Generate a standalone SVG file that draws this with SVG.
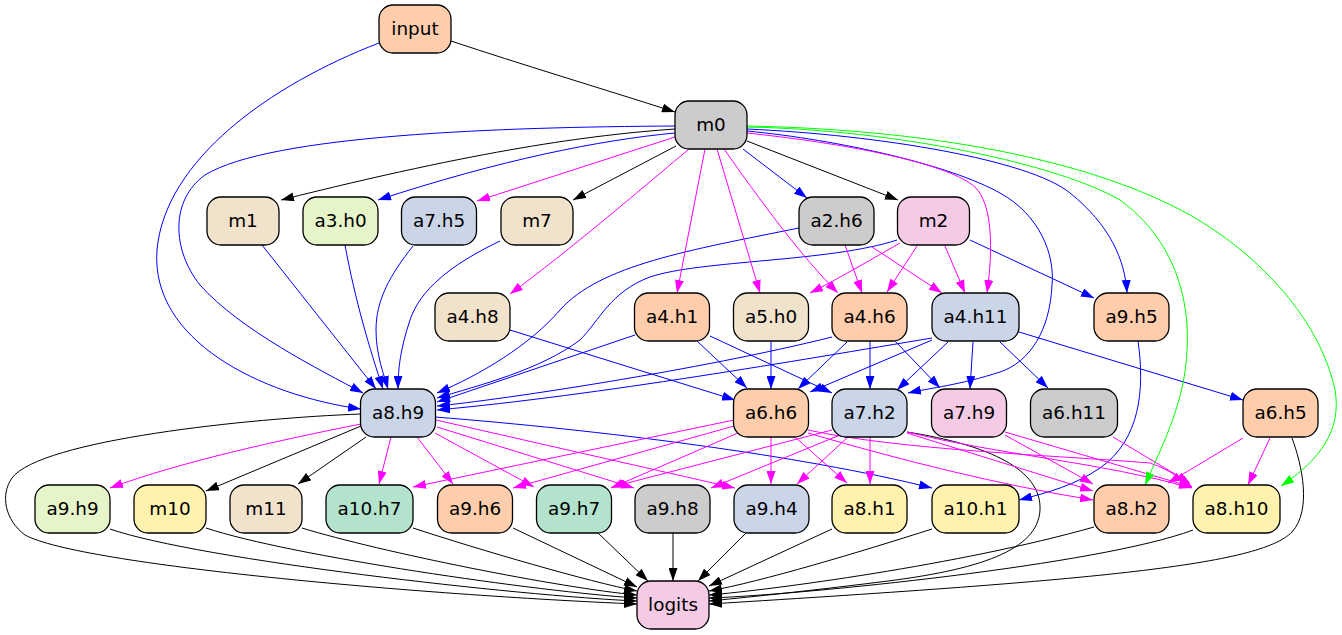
<svg xmlns="http://www.w3.org/2000/svg" width="1342" height="635" viewBox="0 0 1342 635">
<style>
.node rect{stroke:#000;stroke-width:1.3}
.node text{font-family:"DejaVu Sans","Liberation Sans",sans-serif;font-size:18.4px;text-anchor:middle;fill:#000}
.p1{fill:#b3e2cd}.p2{fill:#fdcdac}.p3{fill:#cbd5e8}.p4{fill:#f4cae4}
.p5{fill:#e6f5c9}.p6{fill:#fff2ae}.p7{fill:#f1e2cc}.p8{fill:#cccccc}
#edges path{fill:none;stroke-width:1}
.k{stroke:#000;marker-end:url(#ak)}
.b{stroke:#0000ff;marker-end:url(#ab)}
.m{stroke:#ff00ff;marker-end:url(#am)}
.g{stroke:#00ff00;marker-end:url(#ag)}
</style>
<defs>
<marker id="ak" viewBox="0 0 13 9" refX="13" refY="4.5" markerWidth="13" markerHeight="9" markerUnits="userSpaceOnUse" orient="auto"><path d="M0,0L13,4.5L0,9z" fill="#000"/></marker>
<marker id="ab" viewBox="0 0 13 9" refX="13" refY="4.5" markerWidth="13" markerHeight="9" markerUnits="userSpaceOnUse" orient="auto"><path d="M0,0L13,4.5L0,9z" fill="#0000ff"/></marker>
<marker id="am" viewBox="0 0 13 9" refX="13" refY="4.5" markerWidth="13" markerHeight="9" markerUnits="userSpaceOnUse" orient="auto"><path d="M0,0L13,4.5L0,9z" fill="#ff00ff"/></marker>
<marker id="ag" viewBox="0 0 13 9" refX="13" refY="4.5" markerWidth="13" markerHeight="9" markerUnits="userSpaceOnUse" orient="auto"><path d="M0,0L13,4.5L0,9z" fill="#00ff00"/></marker>
</defs>
<rect width="1342" height="635" fill="#fff"/>
<g id="edges">
<!-- black -->
<path class="k" d="M451,41 C520,64 600,88 675,112"/>
<path class="k" d="M675,129 C590,135 480,150 281,200"/>
<path class="k" d="M676,146 L573,200"/>
<path class="k" d="M747,141 L898,200"/>
<path class="k" d="M361,426 L206,491"/>
<path class="k" d="M366,437 L298,484"/>
<path class="k" d="M361,414 C250,418 40,440 12,478 C0,495 5,520 25,535 C80,565 420,595 637,604"/>
<path class="k" d="M110,529 C200,560 520,596 637,601"/>
<path class="k" d="M206,528 C290,556 540,592 637,598"/>
<path class="k" d="M302,528 C380,552 560,588 637,595"/>
<path class="k" d="M413,528 C480,550 590,582 637,591"/>
<path class="k" d="M513,528 L637,587"/>
<path class="k" d="M598,533 L648,581"/>
<path class="k" d="M673,533 L673,581"/>
<path class="k" d="M746,533 L698,581"/>
<path class="k" d="M832,529 L709,586"/>
<path class="k" d="M932,529 C860,552 760,582 709,591"/>
<path class="k" d="M1094,527 C960,565 770,590 709,595"/>
<path class="k" d="M1193,530 C1100,565 800,595 709,598"/>
<path class="k" d="M907,432 C990,445 1042,470 1040,510 C1038,550 980,570 880,582 C800,592 740,598 709,601"/>
<path class="k" d="M1292,438 C1302,465 1312,510 1292,532 C1260,565 1100,580 709,604"/>
<!-- blue -->
<path class="b" d="M379,43 C270,85 165,160 157,250 C150,340 260,395 361,409"/>
<path class="b" d="M675,126 C500,127 270,135 205,175 C170,200 172,250 200,285 C240,330 320,370 363,393"/>
<path class="b" d="M675,133 C600,140 500,160 378,200"/>
<path class="b" d="M743,149 L807,198"/>
<path class="b" d="M747,131 C840,140 950,165 1000,193 C1040,215 1055,255 1052,285 C1050,330 1030,362 1000,372 C960,385 930,388 908,393"/>
<path class="b" d="M747,129 C880,135 1030,160 1070,193 C1110,225 1125,260 1127,293"/>
<path class="b" d="M262,245 L376,389"/>
<path class="b" d="M345,245 C355,300 370,350 383,389"/>
<path class="b" d="M413,246 C390,275 376,300 376,330 C376,355 384,375 388,389"/>
<path class="b" d="M500,241 C450,265 420,290 410,320 C400,350 398,370 398,389"/>
<path class="b" d="M799,228 C690,250 600,265 560,310 C530,345 480,375 437,393"/>
<path class="b" d="M897,240 C830,262 700,260 650,277 C610,292 600,320 580,340 C540,370 480,385 437,398"/>
<path class="b" d="M970,240 L1094,298"/>
<path class="b" d="M635,335 L437,402"/>
<path class="b" d="M697,341 L747,388"/>
<path class="b" d="M710,336 L832,393"/>
<path class="b" d="M510,330 L735,400"/>
<path class="b" d="M771,341 L771,389"/>
<path class="b" d="M847,342 L798,389"/>
<path class="b" d="M870,341 L870,389"/>
<path class="b" d="M895,341 L940,388"/>
<path class="b" d="M832,337 C700,370 500,400 437,406"/>
<path class="b" d="M932,338 C800,360 600,395 437,410"/>
<path class="b" d="M932,340 L810,392"/>
<path class="b" d="M948,342 L897,390"/>
<path class="b" d="M973,342 L970,389"/>
<path class="b" d="M1000,342 L1048,388"/>
<path class="b" d="M1019,332 L1243,400"/>
<path class="b" d="M435,417 C600,430 800,455 932,488"/>
<path class="b" d="M1138,341 C1145,390 1140,440 1100,468 C1075,485 1050,492 1019,500"/>
<!-- magenta -->
<path class="m" d="M675,137 L477,201"/>
<path class="m" d="M689,149 C640,190 570,250 510,294"/>
<path class="m" d="M705,149 L677,293"/>
<path class="m" d="M717,149 L760,293"/>
<path class="m" d="M724,149 C760,200 800,255 838,293"/>
<path class="m" d="M747,133 C860,145 950,165 975,187 C993,205 993,250 987,293"/>
<path class="m" d="M845,245 L862,293"/>
<path class="m" d="M872,247 L942,293"/>
<path class="m" d="M900,243 C870,260 840,278 810,293"/>
<path class="m" d="M917,246 L887,292"/>
<path class="m" d="M945,246 L965,293"/>
<path class="m" d="M361,424 C280,440 180,462 110,488"/>
<path class="m" d="M391,437 L379,484"/>
<path class="m" d="M417,437 L453,484"/>
<path class="m" d="M435,433 L534,487"/>
<path class="m" d="M437,427 L634,488"/>
<path class="m" d="M436,420 L735,488"/>
<path class="m" d="M734,420 L413,487"/>
<path class="m" d="M734,426 L513,488"/>
<path class="m" d="M738,433 L611,488"/>
<path class="m" d="M832,430 L612,487"/>
<path class="m" d="M840,435 L711,488"/>
<path class="m" d="M848,437 L797,484"/>
<path class="m" d="M771,437 L771,484"/>
<path class="m" d="M795,437 L847,483"/>
<path class="m" d="M870,437 L870,484"/>
<path class="m" d="M808,433 C900,460 1000,485 1093,500"/>
<path class="m" d="M808,430 C900,450 1050,455 1150,463 C1170,470 1180,478 1192,487"/>
<path class="m" d="M907,433 L1093,491"/>
<path class="m" d="M907,432 C1000,455 1100,462 1192,488"/>
<path class="m" d="M1005,435 L1093,484"/>
<path class="m" d="M1005,432 L1192,487"/>
<path class="m" d="M1113,437 L1190,483"/>
<path class="m" d="M1243,438 L1168,483"/>
<path class="m" d="M1270,438 L1248,485"/>
<!-- green -->
<path class="g" d="M747,127 C900,130 1060,165 1120,200 C1175,240 1190,300 1187,350 C1185,400 1165,440 1145,485"/>
<path class="g" d="M747,126 C950,130 1100,165 1190,215 C1260,255 1320,320 1335,390 C1342,430 1320,460 1281,486"/>
</g>
<g id="input" class="node"><rect class="p2" x="379" y="5" width="72" height="48" rx="14"/><text x="415" y="34.5">input</text></g>
<g id="m0" class="node"><rect class="p8" x="675" y="101" width="72" height="48" rx="14"/><text x="711" y="130.5">m0</text></g>
<g id="m1" class="node"><rect class="p7" x="207" y="197" width="72" height="48" rx="14"/><text x="243" y="226.5">m1</text></g>
<g id="a3.h0" class="node"><rect class="p5" x="303" y="197" width="75" height="48" rx="14"/><text x="340.5" y="226.5">a3.h0</text></g>
<g id="a7.h5" class="node"><rect class="p3" x="401.5" y="197" width="75" height="48" rx="14"/><text x="439" y="226.5">a7.h5</text></g>
<g id="m7" class="node"><rect class="p7" x="501" y="197" width="72" height="48" rx="14"/><text x="537" y="226.5">m7</text></g>
<g id="a2.h6" class="node"><rect class="p8" x="799" y="197" width="75" height="48" rx="14"/><text x="836.5" y="226.5">a2.h6</text></g>
<g id="m2" class="node"><rect class="p4" x="897.5" y="197" width="72" height="48" rx="14"/><text x="933.5" y="226.5">m2</text></g>
<g id="a4.h8" class="node"><rect class="p7" x="435" y="293" width="75" height="48" rx="14"/><text x="472.5" y="322.5">a4.h8</text></g>
<g id="a4.h1" class="node"><rect class="p2" x="634.5" y="293" width="75" height="48" rx="14"/><text x="672" y="322.5">a4.h1</text></g>
<g id="a5.h0" class="node"><rect class="p7" x="733.5" y="293" width="75" height="48" rx="14"/><text x="771" y="322.5">a5.h0</text></g>
<g id="a4.h6" class="node"><rect class="p2" x="832" y="293" width="75" height="48" rx="14"/><text x="869.5" y="322.5">a4.h6</text></g>
<g id="a4.h11" class="node"><rect class="p3" x="932" y="293" width="87" height="48" rx="14"/><text x="975.5" y="322.5">a4.h11</text></g>
<g id="a9.h5" class="node"><rect class="p2" x="1094" y="293" width="75" height="48" rx="14"/><text x="1131.5" y="322.5">a9.h5</text></g>
<g id="a8.h9" class="node"><rect class="p3" x="360.5" y="389" width="75" height="48" rx="14"/><text x="398" y="418.5">a8.h9</text></g>
<g id="a6.h6" class="node"><rect class="p2" x="733.5" y="389" width="75" height="48" rx="14"/><text x="771" y="418.5">a6.h6</text></g>
<g id="a7.h2" class="node"><rect class="p3" x="832" y="389" width="75" height="48" rx="14"/><text x="869.5" y="418.5">a7.h2</text></g>
<g id="a7.h9" class="node"><rect class="p4" x="931.5" y="389" width="75" height="48" rx="14"/><text x="969" y="418.5">a7.h9</text></g>
<g id="a6.h11" class="node"><rect class="p8" x="1030.5" y="389" width="87" height="48" rx="14"/><text x="1074" y="418.5">a6.h11</text></g>
<g id="a6.h5" class="node"><rect class="p2" x="1243" y="389" width="75" height="48" rx="14"/><text x="1280.5" y="418.5">a6.h5</text></g>
<g id="a9.h9" class="node"><rect class="p5" x="35" y="485" width="75" height="48" rx="14"/><text x="72.5" y="514.5">a9.h9</text></g>
<g id="m10" class="node"><rect class="p6" x="134" y="485" width="72" height="48" rx="14"/><text x="170" y="514.5">m10</text></g>
<g id="m11" class="node"><rect class="p7" x="230" y="485" width="72" height="48" rx="14"/><text x="266" y="514.5">m11</text></g>
<g id="a10.h7" class="node"><rect class="p1" x="326" y="485" width="87" height="48" rx="14"/><text x="369.5" y="514.5">a10.h7</text></g>
<g id="a9.h6" class="node"><rect class="p2" x="437.5" y="485" width="75" height="48" rx="14"/><text x="475" y="514.5">a9.h6</text></g>
<g id="a9.h7" class="node"><rect class="p1" x="536.5" y="485" width="75" height="48" rx="14"/><text x="574" y="514.5">a9.h7</text></g>
<g id="a9.h8" class="node"><rect class="p8" x="635" y="485" width="75" height="48" rx="14"/><text x="672.5" y="514.5">a9.h8</text></g>
<g id="a9.h4" class="node"><rect class="p3" x="734" y="485" width="75" height="48" rx="14"/><text x="771.5" y="514.5">a9.h4</text></g>
<g id="a8.h1" class="node"><rect class="p6" x="832" y="485" width="75" height="48" rx="14"/><text x="869.5" y="514.5">a8.h1</text></g>
<g id="a10.h1" class="node"><rect class="p6" x="932" y="485" width="87" height="48" rx="14"/><text x="975.5" y="514.5">a10.h1</text></g>
<g id="a8.h2" class="node"><rect class="p2" x="1094" y="485" width="75" height="48" rx="14"/><text x="1131.5" y="514.5">a8.h2</text></g>
<g id="a8.h10" class="node"><rect class="p6" x="1193" y="485" width="87" height="48" rx="14"/><text x="1236.5" y="514.5">a8.h10</text></g>
<g id="logits" class="node"><rect class="p4" x="637" y="581" width="72" height="48" rx="14"/><text x="673" y="610.5">logits</text></g>
</svg>
